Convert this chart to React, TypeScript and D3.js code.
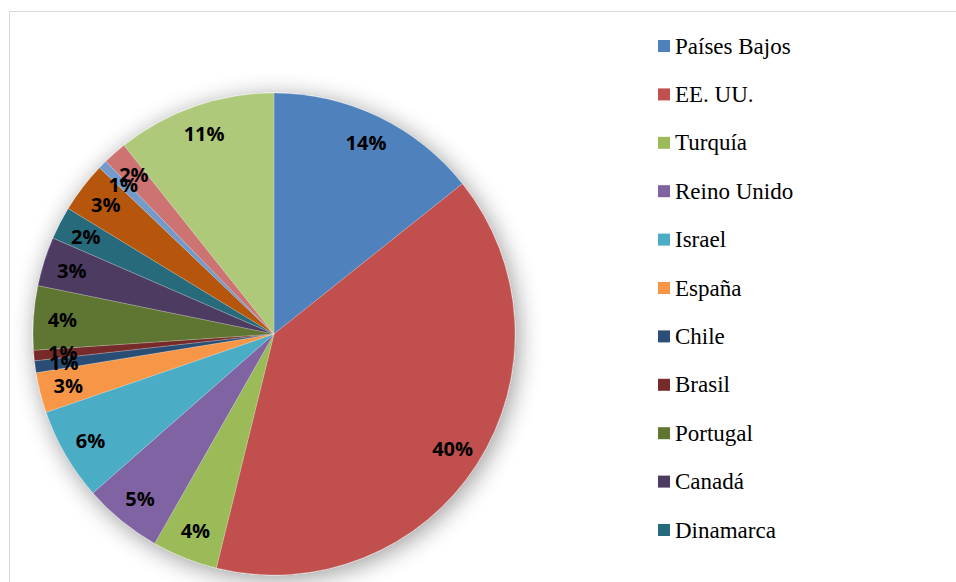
import React from "react";
import * as d3 from "d3";

const countries = [
  "Países Bajos", "EE. UU.", "Turquía", "Reino Unido", "Israel", "España",
  "Chile", "Brasil", "Portugal", "Canadá", "Dinamarca", "Francia",
  "Argentina", "Colombia", "Otros",
];
const shares = [14.3, 39.6, 4.4, 5.3, 6.2, 2.7, 0.8, 0.7, 4.3, 3.3, 2.2, 3.4, 0.6, 1.6, 10.7];
const colors = [
  "#4F81BD", "#C0504D", "#9BBB59", "#8064A2", "#4BACC6", "#F79646",
  "#2C4D75", "#772C2A", "#5F7530", "#4D3B62", "#276A7C", "#B65708",
  "#729ACA", "#CD7371", "#AFC97A",
];
const legendCount = 11;

const W = 956;
const H = 582;
const cx = 274;
const cy = 334;
const R = 241;

export default function App() {
  const data = countries.map((c, i) => ({ name: c, value: shares[i], color: colors[i] }));
  const total = d3.sum(shares);
  const pie = d3.pie<any>().value((d) => d.value).sort(null);
  const arcs = pie(data);
  const arcGen = d3.arc<any>().innerRadius(0).outerRadius(R);
  const labelArc = d3.arc<any>().innerRadius(R * 0.88).outerRadius(R * 0.88);
  const legendY = d3.scaleLinear().domain([0, 1]).range([46, 94.4]);

  return (
    <svg width={W} height={H} style={{ position: "absolute", left: 0, top: 0, background: "#fff" }}>
      <defs>
        <filter id="shadow" x="-30%" y="-30%" width="160%" height="160%">
          <feGaussianBlur in="SourceAlpha" stdDeviation="12" />
          <feOffset dx="3" dy="4" result="b" />
          <feComponentTransfer>
            <feFuncA type="linear" slope="0.4" />
          </feComponentTransfer>
          <feMerge>
            <feMergeNode />
            <feMergeNode in="SourceGraphic" />
          </feMerge>
        </filter>
      </defs>
      <rect x={9.5} y={11.5} width={1000} height={1000} fill="#fff" stroke="#d9d9d9" strokeWidth={1} />
      <g transform={`translate(${cx},${cy})`}>
        <g filter="url(#shadow)">
          {arcs.map((a, i) => (
            <path key={i} d={arcGen(a) as string} fill={a.data.color} stroke="#ffffff" strokeOpacity={0.35} strokeWidth={0.6} />
          ))}
        </g>
        {arcs.map((a, i) => {
          const [x, y] = labelArc.centroid(a);
          return (
            <text
              key={i}
              x={x}
              y={y}
              textAnchor="middle"
              dominantBaseline="central"
              style={{ fontFamily: "'Open Sans', sans-serif", fontWeight: 700, fontSize: "20px" }}
              fill="#000"
            >
              {Math.round((a.data.value / total) * 100)}%
            </text>
          );
        })}
      </g>
      <g>
        {data.slice(0, legendCount).map((d, i) => (
          <g key={i} transform={`translate(658,${legendY(i)})`}>
            <rect x={0} y={-6} width={12} height={12} fill={d.color} />
            <text
              x={17}
              y={0}
              dominantBaseline="central"
              style={{ fontFamily: "'Times New Roman', Times, Tinos, 'Liberation Serif', 'Noto Serif', 'DejaVu Serif', FreeSerif, serif", fontSize: "23px" }}
              fill="#000"
            >
              {d.name}
            </text>
          </g>
        ))}
      </g>
    </svg>
  );
}
